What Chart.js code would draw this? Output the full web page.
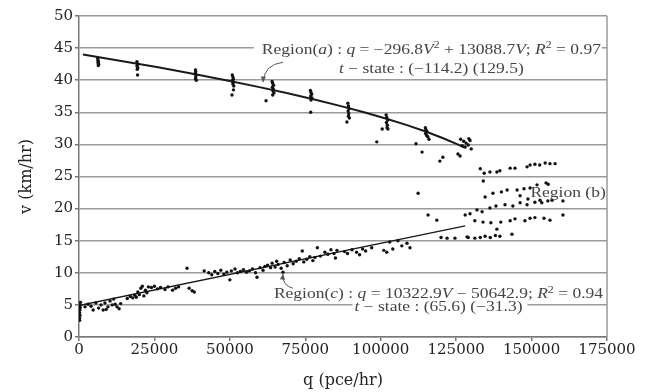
<!DOCTYPE html>
<html>
<head>
<meta charset="utf-8">
<script src="https://cdn.jsdelivr.net/npm/chart.js"></script>
<style>
  body { margin: 0; background: #fff; }
</style>
</head>
<body>
<canvas id="chart" width="655" height="392"></canvas>
<script>
var regionA = [
  [6200, 43.4], [6300, 43.1], [6400, 42.9], [6300, 42.7], [6500, 42.5], [6400, 42.3],
  [19200, 42.9], [19300, 42.6], [19400, 42.4], [19200, 42.2], [19500, 41.9], [19300, 41.7], [19400, 40.8],
  [38600, 41.6], [38700, 41.3], [38500, 41.0], [38800, 40.8], [38700, 40.5], [38600, 40.2], [38900, 40.0],
  [50800, 40.8], [51000, 40.5], [51200, 40.2], [50900, 40.0], [51100, 39.7], [51000, 39.4], [51300, 39.1],
  [51200, 38.5], [50700, 37.7],
  [64000, 39.8], [64200, 39.5], [64500, 39.2], [64100, 38.9], [64400, 38.6], [64300, 38.3], [64600, 38.0],
  [64200, 37.7], [62000, 36.8],
  [76700, 38.4], [76900, 38.1], [77100, 37.8], [76800, 37.5], [77200, 37.2], [76900, 36.9], [76800, 35.0],
  [89100, 36.4], [89300, 36.0], [89500, 35.6], [89200, 35.2], [89400, 34.8], [89300, 34.4], [89600, 34.1],
  [88800, 33.5],
  [101800, 34.6], [102000, 34.2], [102300, 33.8], [101900, 33.4], [102200, 33.0], [102100, 32.6],
  [100500, 32.4], [102400, 32.4],
  [114800, 32.6], [115000, 32.3], [115300, 32.0], [114900, 31.7], [115200, 31.4], [115600, 31.2], [116000, 30.8],
  [126500, 30.8], [127500, 30.5], [128300, 30.2], [129000, 29.9], [129600, 30.6], [128000, 29.6],
  [130000, 29.3], [129200, 30.9], [127000, 29.8],
  [98700, 30.4], [111700, 30.1], [113700, 28.8], [119600, 27.4], [120600, 28.0], [125600, 28.5], [126300, 28.2]
];

var regionB = [
  [112400, 22.4], [115700, 19.0], [118600, 18.2],
  [120000, 15.5], [122000, 15.4], [124600, 15.4], [128600, 15.6], [129000, 15.5], [131200, 15.4],
  [133000, 15.5], [134600, 15.7], [136300, 15.5], [138000, 15.8], [139500, 15.7],
  [128000, 19.0], [129600, 19.2], [131900, 19.8], [133600, 19.5], [136200, 20.1], [138200, 20.4],
  [141200, 20.6], [143800, 20.4], [146200, 20.9], [148500, 20.6], [151100, 21.0], [153400, 20.9],
  [155400, 21.2], [156800, 21.3], [160400, 21.2],
  [131200, 18.1], [133900, 17.9], [136500, 17.8], [138500, 16.8], [139800, 17.9], [142900, 18.1],
  [144500, 18.4], [147800, 18.1], [149500, 18.5], [151100, 18.6], [154100, 18.5], [156100, 18.2],
  [160400, 19.0], [143500, 16.0],
  [134600, 21.8], [137200, 22.4], [140000, 22.6], [141900, 22.9], [145200, 22.9], [147500, 23.1],
  [149500, 23.2], [151800, 23.7], [154800, 24.0], [155500, 23.8], [146200, 22.0], [148800, 21.5], [152800, 21.3],
  [133000, 26.2], [134300, 25.5], [136200, 25.7], [138500, 25.7], [139500, 25.9], [142900, 26.3],
  [144500, 26.3], [148500, 26.5], [149500, 26.8], [151100, 26.9], [152700, 26.8], [154500, 27.1],
  [156100, 27.0], [157800, 27.0], [134000, 24.3]
];

var regionC = [
  [200, 2.6], [200, 3.0], [300, 3.4], [200, 3.8], [300, 4.2], [400, 4.6], [300, 5.0], [500, 5.4],
  [2000, 4.7], [3000, 5.1], [4000, 4.8], [4700, 4.2], [5600, 5.3], [6500, 4.5], [7300, 5.0], [8000, 4.2],
  [8600, 5.3], [9600, 4.7], [10300, 5.6], [11000, 5.0], [12000, 5.1], [12600, 4.7], [13300, 4.4],
  [9000, 4.3], [11500, 5.9], [13800, 5.2],
  [16000, 6.0], [17000, 6.3], [17800, 6.1], [18500, 6.5], [19000, 6.2], [19500, 7.0], [20000, 6.6],
  [20500, 7.6], [21000, 7.9], [21500, 6.4], [22000, 7.3], [22500, 6.9], [23000, 7.8],
  [24000, 7.7], [25000, 7.9], [26000, 7.5], [27000, 7.7], [28500, 7.4], [29500, 7.8], [31000, 7.3],
  [32000, 7.6], [33000, 7.8], [35800, 10.7], [36500, 7.6], [37500, 7.2], [38200, 7.0],
  [41500, 10.3], [43000, 10.0], [44000, 9.7], [45000, 10.2], [46000, 9.9], [47000, 10.4], [48000, 9.8],
  [49000, 10.1], [50000, 8.9], [50500, 10.3],
  [51700, 10.6], [52500, 10.0], [53500, 10.2], [54500, 10.5], [55500, 10.1], [56500, 10.3], [57500, 10.6],
  [58500, 10.0], [59000, 9.3], [60000, 10.8], [61000, 10.4], [61600, 11.0],
  [62500, 11.2], [63500, 10.8], [64000, 11.5], [65000, 10.9], [65500, 11.8], [66000, 11.3], [67000, 10.7],
  [67600, 10.1], [68000, 11.6], [69000, 11.1], [70000, 12.0], [71000, 11.4], [72000, 11.8], [73000, 12.2],
  [74000, 13.4], [74500, 11.7], [75500, 12.1], [76500, 12.5], [77500, 11.9], [78200, 12.4], [79000, 13.9],
  [80000, 12.6],
  [81500, 13.2], [82500, 12.9], [83500, 13.6], [84500, 13.0], [85000, 12.3], [85500, 13.5],
  [88000, 13.3], [89000, 13.0], [90500, 13.6], [92000, 13.2], [93000, 12.8], [94000, 13.7], [95000, 13.4],
  [97000, 13.9],
  [101000, 13.5], [102000, 13.2], [103000, 14.8], [104000, 13.7], [105700, 15.0], [107000, 14.2],
  [108700, 14.6], [109700, 13.9]
];

// fitted curves as drawn in the figure
var fitA = [
  [1300, 44], [14000, 43], [26200, 42], [37700, 41], [48700, 40], [59000, 39], [68800, 38],
  [78000, 37], [86500, 36], [94500, 35], [101900, 34], [108700, 33], [114900, 32], [120500, 31],
  [125500, 30], [127800, 29.5]
];
var fitC = [[0, 4.9], [128000, 17.3]];

var serif = '"DejaVu Serif", serif';
var textFont = '"Liberation Serif", serif';

function pts(arr) {
  return arr.map(function (p) { return { x: p[0], y: p[1] }; });
}

// text notes, positions in data units; bg = [pad left, pad right, half height]
var notes = [
  { q: 116800, v: 44.7, bg: [8, 1, 8], segs: [["Region(", ""], ["a", "i"], [") : ", ""], ["q", "i"], [" = \u2212296.8", ""], ["V", "i"], ["2", "sup"], [" + 13088.7", ""], ["V", "i"], ["; ", ""], ["R", "i"], ["2", "sup"], [" = 0.97", ""]] },
  { q: 116800, v: 41.7, bg: [4, 4, 8], segs: [["t", "i"], [" \u2212 state : (\u2212114.2) (129.5)", ""]] },
  { q: 162100, v: 22.4, bg: null, segs: [["Region (b)", ""]] },
  { q: 119150, v: 6.6, bg: null, segs: [["Region(", ""], ["c", "i"], [") : ", ""], ["q", "i"], [" = 10322.9", ""], ["V", "i"], [" \u2212 50642.9; ", ""], ["R", "i"], ["2", "sup"], [" = 0.94", ""]] },
  { q: 119150, v: 4.6, bg: [2, 5, 4], segs: [["t", "i"], [" \u2212 state : (65.6) (\u221231.3)", ""]] }
];
var arrows = [
  { from: [67600, 42.8], ctrl: [61300, 42.4], to: [61000, 39.7] },
  { from: [70900, 7.6], ctrl: [67300, 8.0], to: [67600, 9.8] }
];

var notesPlugin = {
  id: "notes",
  afterDatasetsDraw: function (chart) {
    var ctx = chart.ctx, xs = chart.scales.x, ys = chart.scales.y, area = chart.chartArea;
    var size = 14, stretch = 1.25;
    ctx.save();
    // plot frame on the right
    ctx.strokeStyle = "#9a9a9a";
    ctx.lineWidth = 1.5;
    ctx.beginPath();
    ctx.moveTo(area.right, area.top);
    ctx.lineTo(area.right, area.bottom);
    ctx.stroke();

    notes.forEach(function (n) {
      var total = 0;
      var parts = n.segs.map(function (s) {
        var f = (s[1] === "i" ? "italic " : "") + (s[1] === "sup" ? size * 0.68 : size) + "px " + textFont;
        ctx.font = f;
        var w = ctx.measureText(s[0]).width;
        total += w;
        return { t: s[0], kind: s[1], f: f, w: w };
      });
      var cx = xs.getPixelForValue(n.q), cy = ys.getPixelForValue(n.v);
      if (n.bg) {
        ctx.fillStyle = "#fff";
        ctx.fillRect(cx - total * stretch / 2 - n.bg[0], cy - n.bg[2], total * stretch + n.bg[0] + n.bg[1], n.bg[2] * 2);
      }
      ctx.save();
      ctx.translate(cx, cy);
      ctx.scale(stretch, 1);
      var x = -total / 2;
      ctx.fillStyle = "#444";
      ctx.textBaseline = "middle";
      parts.forEach(function (p) {
        ctx.font = p.f;
        ctx.fillText(p.t, x, p.kind === "sup" ? -size * 0.32 : 0);
        x += p.w;
      });
      ctx.restore();
    });
    ctx.strokeStyle = "#555";
    ctx.fillStyle = "#555";
    ctx.lineWidth = 1;
    arrows.forEach(function (a) {
      var x0 = xs.getPixelForValue(a.from[0]), y0 = ys.getPixelForValue(a.from[1]);
      var x1 = xs.getPixelForValue(a.ctrl[0]), y1 = ys.getPixelForValue(a.ctrl[1]);
      var x2 = xs.getPixelForValue(a.to[0]), y2 = ys.getPixelForValue(a.to[1]);
      ctx.beginPath();
      ctx.moveTo(x0, y0);
      ctx.quadraticCurveTo(x1, y1, x2, y2);
      ctx.stroke();
      var ang = Math.atan2(y2 - y1, x2 - x1);
      ctx.beginPath();
      ctx.moveTo(x2, y2);
      ctx.lineTo(x2 - 6 * Math.cos(ang - 0.45), y2 - 6 * Math.sin(ang - 0.45));
      ctx.lineTo(x2 - 6 * Math.cos(ang + 0.45), y2 - 6 * Math.sin(ang + 0.45));
      ctx.closePath();
      ctx.fill();
    });
    ctx.restore();
  }
};

var dotStyle = { pointRadius: 1.7, pointBackgroundColor: "#111", pointBorderWidth: 0, showLine: false };

var ctx = document.getElementById("chart").getContext("2d");
var chart = new Chart(ctx, {
  type: "scatter",
  data: {
    datasets: [
      Object.assign({ label: "Region (a)", data: pts(regionA) }, dotStyle),
      Object.assign({ label: "Region (b)", data: pts(regionB) }, dotStyle),
      Object.assign({ label: "Region (c)", data: pts(regionC) }, dotStyle),
      { label: "fit (a)", data: pts(fitA), showLine: true, borderColor: "#1a1a1a", borderWidth: 2, pointRadius: 0, tension: 0 },
      { label: "fit (c)", data: pts(fitC), showLine: true, borderColor: "#1a1a1a", borderWidth: 1.4, pointRadius: 0 }
    ]
  },
  options: {
    responsive: false,
    animation: false,
    layout: { padding: { left: 0, top: 16, right: 48, bottom: 0 } },
    plugins: { legend: { display: false }, tooltip: { enabled: false } },
    scales: {
      x: {
        type: "linear",
        min: 0,
        max: 175000,
        afterFit: function (s) { s.height = 55; },
        ticks: {
          stepSize: 25000, autoSkip: false, maxRotation: 0, padding: 0,
          color: "#222", font: { family: serif, size: 15 },
          callback: function (v) { return String(v); }
        },
        grid: { drawOnChartArea: false, tickLength: 4, lineWidth: 1.5, color: "#777" },
        border: { color: "#777", width: 1.5 },
        title: { display: true, text: "q (pce/hr)", color: "#222", font: { family: serif, size: 16 }, padding: { top: 0, bottom: 2 } }
      },
      y: {
        min: 0,
        max: 50,
        afterFit: function (s) { s.width = 79; },
        ticks: { stepSize: 5, padding: 2, color: "#222", font: { family: serif, size: 15 } },
        grid: { color: "#9a9a9a", lineWidth: 1.5, tickLength: 4, tickColor: "#777" },
        border: { color: "#777", width: 1.5 },
        title: { display: true, text: "v (km/hr)", color: "#222", font: { family: serif, size: 16 }, padding: { top: 17, bottom: 0 } }
      }
    }
  },
  plugins: [notesPlugin]
});
</script>
</body>
</html>
